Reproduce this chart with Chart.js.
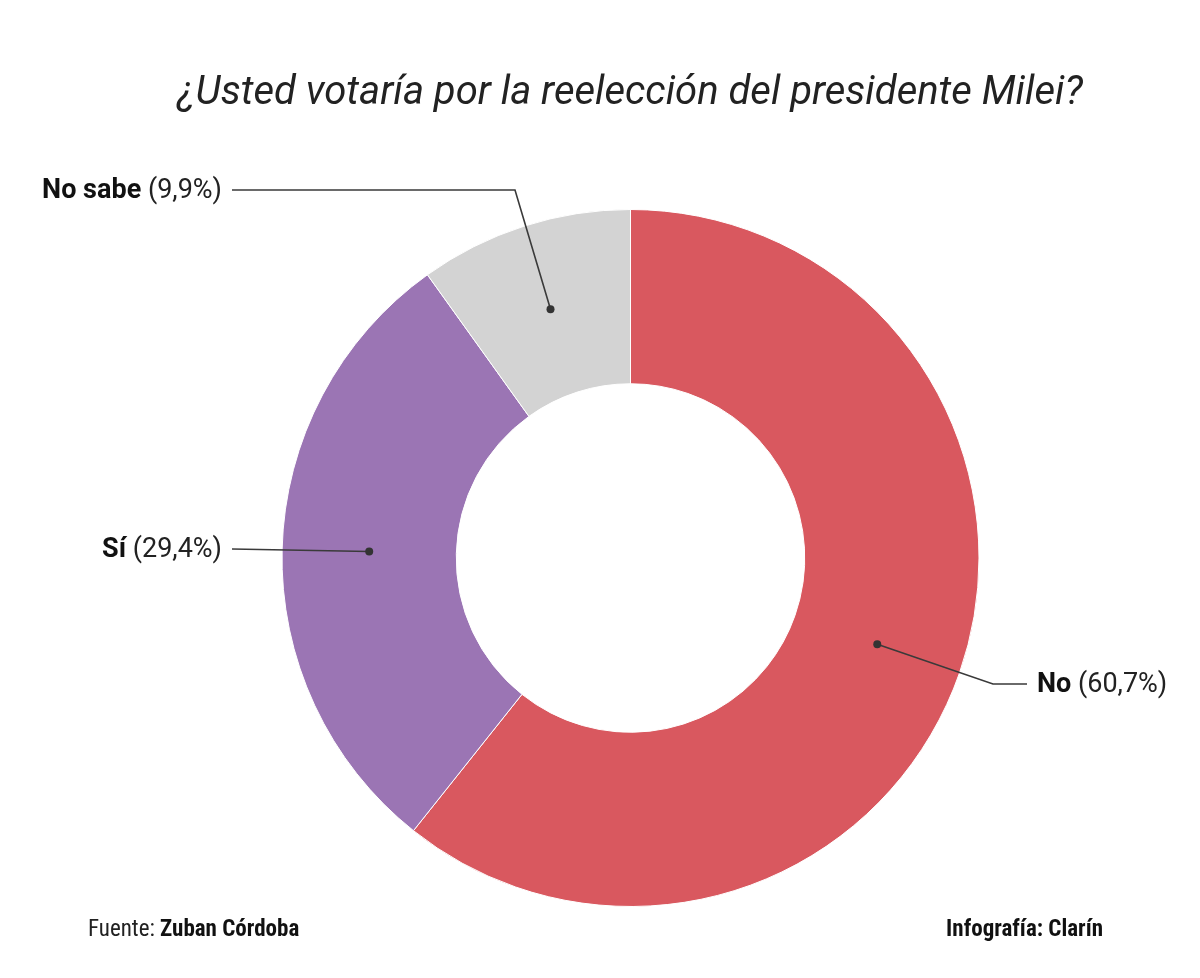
<!DOCTYPE html>
<html>
<head>
<meta charset="utf-8">
<script src="https://cdn.jsdelivr.net/npm/chart.js@4"></script>
<style>
  html, body { margin: 0; padding: 0; background: #fff; }
  canvas { display: block; }
</style>
</head>
<body>
<canvas id="myChart" width="1200" height="978"></canvas>
<script>
// data
var labels = ['No', 'Sí', 'No sabe'];
var values = [60.7, 29.4, 9.9];
var valueTexts = ['(60,7%)', '(29,4%)', '(9,9%)'];
var colors = ['#d9585f', '#9b75b4', '#d3d3d3'];

// where each callout bends and ends (px)
var callouts = [
    { elbowX: 993, elbowY: 684, endX: 1027, side: 'right' },
    { elbowX: null, elbowY: 549, endX: 232, side: 'left' },
    { elbowX: 515, elbowY: 190, endX: 232, side: 'left' }
];

var textPlugin = {
    id: 'texts',
    afterDraw: function (chart) {
        var c = chart.ctx;
        c.save();
        // title
        c.fillStyle = '#222';
        c.font = 'italic 40px Roboto, "Liberation Sans", sans-serif';
        c.textAlign = 'center';
        c.textBaseline = 'alphabetic';
        c.fillText('¿Usted votaría por la reelección del presidente Milei?', 630, 104);

        // callouts
        var meta = chart.getDatasetMeta(0);
        meta.data.forEach(function (arc, i) {
            var p = arc.getProps(['x', 'y', 'startAngle', 'endAngle', 'innerRadius', 'outerRadius'], true);
            var mid = (p.startAngle + p.endAngle) / 2;
            var r = (p.innerRadius + p.outerRadius) / 2;
            var dx = p.x + Math.cos(mid) * r;
            var dy = p.y + Math.sin(mid) * r;
            var co = callouts[i];
            c.strokeStyle = '#3a3a3a';
            c.lineWidth = 1.6;
            c.beginPath();
            c.moveTo(dx, dy);
            if (co.elbowX !== null) c.lineTo(co.elbowX, co.elbowY);
            c.lineTo(co.endX, co.elbowY);
            c.stroke();
            c.fillStyle = '#333';
            c.beginPath();
            c.arc(dx, dy, 4, 0, Math.PI * 2);
            c.fill();

            var bold = '700 27px Roboto, "Liberation Sans", sans-serif';
            var reg = '400 27px Roboto, "Liberation Sans", sans-serif';
            c.textBaseline = 'middle';
            c.textAlign = 'left';
            c.font = bold;
            var w1 = c.measureText(labels[i] + ' ').width;
            c.font = reg;
            var w2 = c.measureText(valueTexts[i]).width;
            var x0 = co.side === 'right' ? co.endX + 10 : co.endX - 10 - w1 - w2;
            c.fillStyle = '#111';
            c.font = bold;
            c.fillText(labels[i], x0, co.elbowY + 1);
            c.fillStyle = '#222';
            c.font = reg;
            c.fillText(valueTexts[i], x0 + w1, co.elbowY + 1);
        });

        // footer
        var fReg = '400 23px "Liberation Sans Narrow", "Roboto Condensed", Roboto, sans-serif';
        var fBold = '700 23px "Liberation Sans Narrow", "Roboto Condensed", Roboto, sans-serif';
        c.textBaseline = 'alphabetic';
        c.textAlign = 'left';
        c.fillStyle = '#222';
        c.font = fReg;
        c.fillText('Fuente: ', 88, 936);
        var fw = c.measureText('Fuente: ').width;
        c.fillStyle = '#111';
        c.font = fBold;
        c.fillText('Zuban Córdoba', 88 + fw, 936);
        c.textAlign = 'right';
        c.fillText('Infografía: Clarín', 1103, 936);
        c.restore();
    }
};

var ctx = document.getElementById('myChart').getContext('2d');
var chart = new Chart(ctx, {
    type: 'doughnut',
    data: {
        labels: labels,
        datasets: [{
            data: values,
            backgroundColor: colors,
            borderColor: '#ffffff',
            borderWidth: 1
        }]
    },
    options: {
        responsive: false,
        animation: false,
        cutout: '50%',
        layout: {
            padding: { left: 281, right: 220, top: 209, bottom: 71 }
        },
        plugins: {
            legend: { display: false },
            tooltip: { enabled: false }
        }
    },
    plugins: [textPlugin]
});
</script>
</body>
</html>
